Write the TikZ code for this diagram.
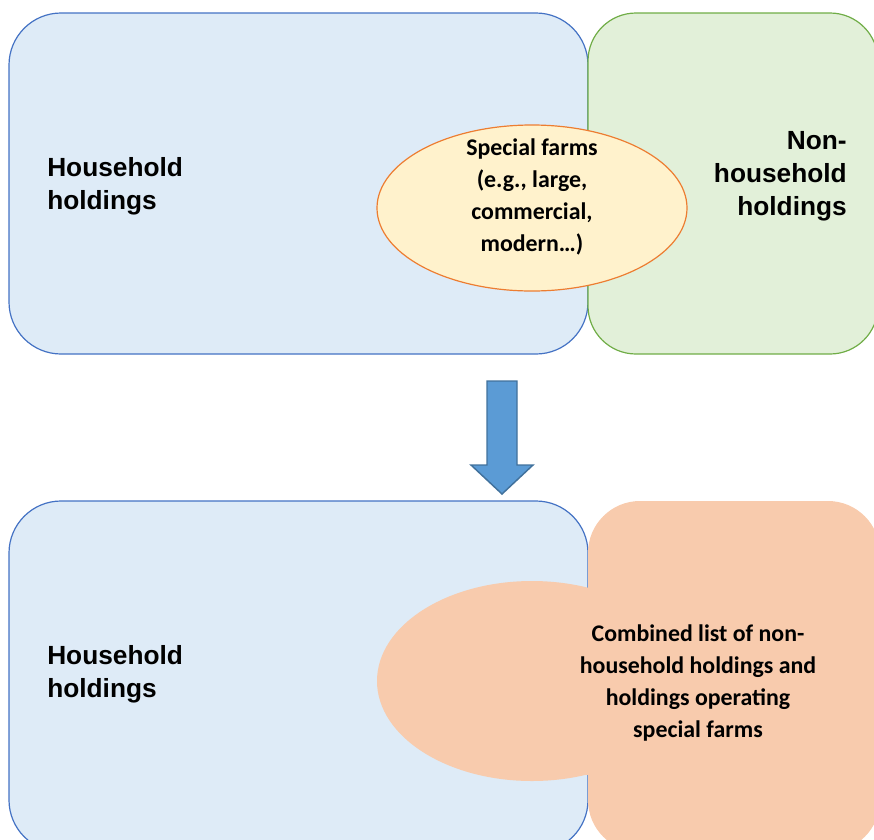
\documentclass[tikz,border=0pt]{standalone}
\usepackage{fontspec}
\usetikzlibrary{shapes.geometric}
\newfontfamily\arialfont{Liberation Sans}
\newfontfamily\califont{Carlito}
\definecolor{bluefill}{HTML}{DEEBF7}
\definecolor{bluedraw}{HTML}{4472C4}
\definecolor{greenfill}{HTML}{E2F0D9}
\definecolor{greendraw}{HTML}{70AD47}
\definecolor{yellowfill}{HTML}{FFF2CC}
\definecolor{orangedraw}{HTML}{ED7D31}
\definecolor{peachfill}{HTML}{F8CBAD}
\definecolor{arrowfill}{HTML}{5B9BD5}
\definecolor{arrowdraw}{HTML}{41719C}
\tikzset{
  bluebox/.style={fill=bluefill,draw=bluedraw,line width=0.9pt,rounded corners=39pt},
  greenbox/.style={fill=greenfill,draw=greendraw,line width=0.9pt,rounded corners=36pt},
  peachbox/.style={fill=peachfill,rounded corners=39pt},
  bigtext/.style={font=\arialfont\bfseries\fontsize{19.7}{24.75}\selectfont,inner sep=0pt},
  smalltext/.style={font=\califont\bfseries\fontsize{17.9}{23.8}\selectfont,inner sep=0pt,align=center},
  blockarrow/.style={fill=arrowfill,draw=arrowdraw,line width=1.1pt,line join=miter}
}
\begin{document}
\begin{tikzpicture}[x=0.75pt,y=-0.75pt]
\useasboundingbox (0,0) rectangle (874,839);
\clip (0,0) rectangle (874,839);
% top row
\draw[bluebox] (9,13) rectangle (588,354);
\draw[greenbox] (588,13) rectangle (878,354);
\node[ellipse,draw=orangedraw,fill=yellowfill,line width=0.9pt,minimum width=232.5pt,minimum height=124.5pt,inner sep=0pt] (special) at (532,208) {};
\node[smalltext] (specialtext) at (532,197) {Special farms\\(e.g., large,\\commercial,\\modern…)};
\node[bigtext,anchor=west,align=left] (hh1) at (47,186) {Household\\holdings};
\node[bigtext,anchor=east,align=right] (nonhh) at (847,176) {Non-\\household\\holdings};
% arrow
\draw[blockarrow] (487,381) -- (517,381) -- (517,465) -- (533,465) -- (502,494) -- (471,465) -- (487,465) -- cycle;
% bottom row
\draw[bluebox] (9,501) rectangle (588,852);
\fill[peachbox] (588,501) rectangle (880,852);
\node[ellipse,fill=peachfill,minimum width=232.5pt,minimum height=150pt,inner sep=0pt] (combined) at (532,681) {};
\fill[peachfill] (560,590) rectangle (600,775);
\node[bigtext,anchor=west,align=left] (hh2) at (47,674.5) {Household\\holdings};
\node[smalltext] (combinedtext) at (698,683) {Combined list of non-\\household holdings and\\holdings operating\\special farms};
\end{tikzpicture}
\end{document}
